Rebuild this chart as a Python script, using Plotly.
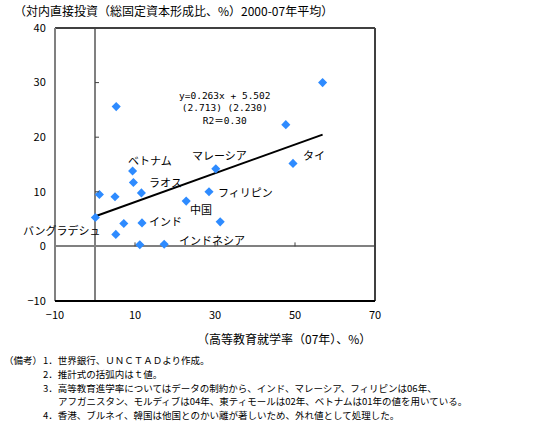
import plotly.graph_objects as go

# ---- data ----
edu = [9.4, 9.6, 1.1, 5.0, 11.6, 0.1, 7.2, 11.75, 5.2, 11.2, 17.3, 22.8, 28.5, 30.2, 31.3, 49.5, 47.7, 56.9, 5.3]
fdi = [13.8, 11.7, 9.5, 9.1, 9.8, 5.3, 4.2, 4.3, 2.2, 0.3, 0.4, 8.3, 10.0, 14.2, 4.5, 15.2, 22.3, 30.0, 25.6]
names = ["ベトナム", "ラオス", "", "", "", "バングラデシュ", "", "インド", "", "", "インドネシア",
         "中国", "フィリピン", "マレーシア", "", "タイ", "", "", ""]
slope = 0.263
intercept = 5.502
eq_lines = ["y=0.263x + 5.502", "(2.713) (2.230)", "R2＝0.30"]
x_ticks = [-10, 10, 30, 50, 70]
y_ticks = [-10, 0, 10, 20, 30, 40]
inner_x_ticks = [10, 30, 50]
inner_y_ticks = [10, 20, 30]
title_text = "（対内直接投資（総固定資本形成比、%）2000-07年平均）"
xtitle_text = "（高等教育就学率（07年）、%）"
notes_head = "（備考）"
notes = [
    "1．世界銀行、ＵＮＣＴＡＤより作成。",
    "2．推計式の括弧内はｔ値。",
    "3．高等教育進学率についてはデータの制約から、インド、マレーシア、フィリピンは06年、",
    "アフガニスタン、モルディブは04年、東ティモールは02年、ベトナムは01年の値を用いている。",
    "4．香港、ブルネイ、韓国は他国とのかい離が著しいため、外れ値として処理した。",
]

# label placement (pixel offsets from point; anchor)
label_style = {
    "ベトナム": (17, 11, "center"),
    "ラオス": (14, 1, "left"),
    "マレーシア": (4, 14, "center"),
    "タイ": (8, 8, "left"),
    "フィリピン": (7, 0, "left"),
    "中国": (2, -8, "left"),
    "インド": (5, 2, "left"),
    "バングラデシュ": (8, -12.5, "right"),
    "インドネシア": (13, 4, "left"),
}

FONT = "Noto Sans CJK JP"
MONO = "DejaVu Sans Mono, Noto Sans CJK JP"
W, H = 535, 422
L, R, T, B = 55, 160, 28, 121
PW, PH = W - L - R, H - T - B


def px(xp):
    return (xp - L) / PW


def py(yp):
    return (H - B - yp) / PH


fig = go.Figure()

# trend line
xl = [min(edu), max(edu)]
fig.add_trace(go.Scatter(x=xl, y=[slope * v + intercept for v in xl], mode="lines",
                         line=dict(color="black", width=2), hoverinfo="skip", showlegend=False))
# points
fig.add_trace(go.Scatter(x=edu, y=fdi, mode="markers",
                         marker=dict(symbol="diamond", size=7, color="#2E8BFF"),
                         showlegend=False))

ann = []
for xv, yv, n in zip(edu, fdi, names):
    if not n:
        continue
    dx, dy, anc = label_style[n]
    ann.append(dict(x=xv, y=yv, xref="x", yref="y", text=n, showarrow=False,
                    xshift=dx, yshift=dy, xanchor=anc, yanchor="middle",
                    font=dict(family=FONT, size=11, color="black")))

# equation text (one centred block)
ann.append(dict(x=32.6, y=25.3, xref="x", yref="y", text="<br>".join(eq_lines), showarrow=False,
                xanchor="center", yanchor="middle", align="center",
                font=dict(family=MONO, size=9.5, color="black")))

# titles
ann.append(dict(x=px(12), y=py(10), xref="paper", yref="paper", text=title_text, showarrow=False,
                xanchor="left", yanchor="middle", font=dict(family=FONT, size=12, color="black")))
ann.append(dict(x=px(373), y=py(338), xref="paper", yref="paper", text=xtitle_text, showarrow=False,
                xanchor="right", yanchor="middle", font=dict(family=FONT, size=12, color="black")))

# notes, one annotation per line
NOTE_FONT = dict(family=FONT, size=9.5, color="black")
ann.append(dict(x=px(2), y=py(360), xref="paper", yref="paper", text=notes_head, showarrow=False,
                xanchor="left", yanchor="middle", font=NOTE_FONT))
note_x = [41, 41, 41, 56, 41]
note_y = [360, 373.75, 387.5, 401.25, 415]
for t, nx, ny in zip(notes, note_x, note_y):
    ann.append(dict(x=px(nx), y=py(ny), xref="paper", yref="paper", text=t, showarrow=False,
                    xanchor="left", yanchor="middle", font=NOTE_FONT))

shapes = []
# frame
shapes.append(dict(type="line", xref="paper", yref="paper", x0=0, x1=1, y0=1, y1=1,
                   line=dict(color="#404040", width=2)))
shapes.append(dict(type="line", xref="paper", yref="paper", x0=1, x1=1, y0=0, y1=1,
                   line=dict(color="#404040", width=2)))
shapes.append(dict(type="line", xref="paper", yref="paper", x0=0, x1=0, y0=0, y1=1,
                   line=dict(color="#808080", width=2)))
shapes.append(dict(type="line", xref="paper", yref="paper", x0=0, x1=1, y0=0, y1=0,
                   line=dict(color="black", width=2)))
# inner tick marks on the zero lines
for v in inner_y_ticks:
    shapes.append(dict(type="line", xref="x", yref="y", xsizemode="pixel", xanchor=0,
                       x0=0, x1=4, y0=v, y1=v, line=dict(color="#404040", width=1)))
for v in inner_x_ticks:
    shapes.append(dict(type="line", xref="x", yref="y", ysizemode="pixel", yanchor=0,
                       y0=0, y1=4, x0=v, x1=v, line=dict(color="#404040", width=1)))

fig.update_layout(
    width=W, height=H,
    margin=dict(l=L, r=R, t=T, b=B, pad=0),
    paper_bgcolor="white", plot_bgcolor="white",
    showlegend=False,
    annotations=ann, shapes=shapes,
    xaxis=dict(range=[-10, 70], tickvals=x_ticks, showgrid=False, showline=False,
               zeroline=True, zerolinecolor="#808080", zerolinewidth=2,
               ticks="outside", ticklen=4, tickcolor="rgba(0,0,0,0)",
               tickfont=dict(family=FONT, size=11, color="black")),
    yaxis=dict(range=[-10, 40], tickvals=y_ticks, showgrid=False, showline=False,
               zeroline=True, zerolinecolor="#808080", zerolinewidth=2,
               ticks="outside", ticklen=6, tickcolor="rgba(0,0,0,0)",
               tickfont=dict(family=FONT, size=11, color="black")),
    font=dict(family=FONT, size=11, color="black"),
)

fig.write_html("out.html")
